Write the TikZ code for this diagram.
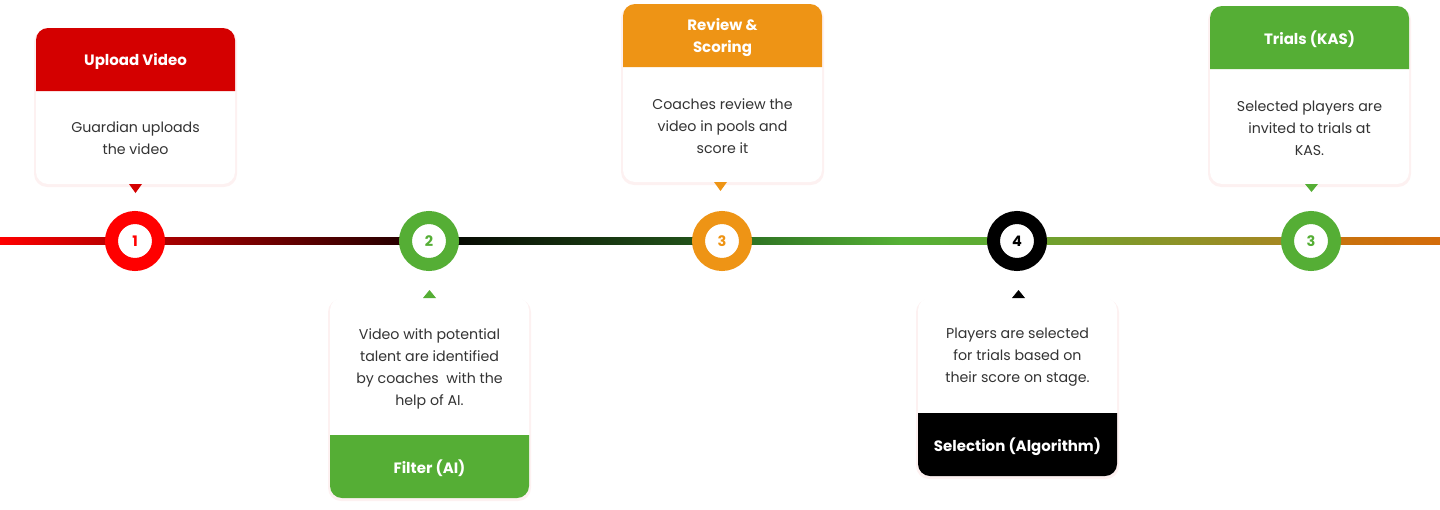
\documentclass[tikz,border=0pt]{standalone}
\usepackage{fontspec}
\setmainfont{Poppins}
\definecolor{cred}{HTML}{FF0000}
\definecolor{hred}{HTML}{D40000}
\definecolor{cgreen}{HTML}{55AE35}
\definecolor{corange}{HTML}{EE9415}
\definecolor{cblack}{HTML}{000000}
\definecolor{bodyc}{HTML}{333333}
\definecolor{shadowc}{HTML}{FDF1F1}
\tikzset{
  headtxt/.style={text=white, font=\fontsize{15}{22}\selectfont\bfseries, align=center, inner sep=0pt},
  bodytxt/.style={text=bodyc, font=\fontsize{14.2}{22}\selectfont, align=center, inner sep=0pt},
  ring/.style={circle, fill=white, draw=#1, line width=13pt, minimum size=47pt, inner sep=0pt, outer sep=0pt,
     text=#1, font=\fontsize{14.5}{14.5}\selectfont\bfseries},
  cardshadow/.style={fill=shadowc, rounded corners=13pt},
  cardbody/.style={fill=white, rounded corners=12pt},
}
\begin{document}
\begin{tikzpicture}[x=1pt,y=-1pt]
\useasboundingbox (0,0) rectangle (1440,509);
% ---- timeline bar ----
\shade[left color=cred, right color=hred!80!black] (0,237.5) rectangle (135,244.5);
\shade[left color={rgb,255:red,184;green,0;blue,0}, right color={rgb,255:red,24;green,0;blue,0}] (135,237.5) rectangle (429,244.5);
\shade[left color={rgb,255:red,4;green,2;blue,0}, right color={rgb,255:red,36;green,90;blue,28}] (429,237.5) rectangle (722,244.5);
\shade[left color={rgb,255:red,40;green,104;blue,32}, right color={rgb,255:red,85;green,176;blue,53}] (722,237.5) rectangle (900,244.5);
\shade[left color={rgb,255:red,85;green,176;blue,53}, right color={rgb,255:red,98;green,170;blue,50}] (899.5,237.5) rectangle (1017,244.5);
\shade[left color={rgb,255:red,104;green,164;blue,48}, right color={rgb,255:red,172;green,132;blue,32}] (1017,237.5) rectangle (1311,244.5);
\shade[left color={rgb,255:red,196;green,116;blue,15}, right color={rgb,255:red,212;green,108;blue,10}] (1311,237.5) rectangle (1440,244.5);

% ---- circles ----
\node[ring=cred] (c1) at (135,241) {1};
\node[ring=cgreen] (c2) at (429,241) {2};
\node[ring=corange] (c3) at (722,241) {3};
\node[ring=cblack] (c4) at (1017,241) {4};
\node[ring=cgreen] (c5) at (1311,241) {3};

% ---- card 1 (top) ----
\fill[cardshadow] (34,29) rectangle (237,187);
\fill[cardbody] (36,28) rectangle (235,184);
\fill[hred] (36,91) [rounded corners=12pt] -- (36,28) -- (235,28) [sharp corners] -- (235,91) -- cycle;
\node[headtxt] (h1) at (135.5,61.5) {Upload Video};
\node[bodytxt] (b1) at (135.5,138.5) {Guardian uploads\\the video};
\fill[hred] (129,184) -- (142,184) -- (135.5,193) -- cycle;

% ---- card 3 (top) ----
\fill[cardshadow] (621,5) rectangle (824,185);
\fill[cardbody] (623,4) rectangle (822,182);
\fill[corange] (623,67) [rounded corners=12pt] -- (623,4) -- (822,4) [sharp corners] -- (822,67) -- cycle;
\node[headtxt] (h3) at (722.5,38) {Review \&\\Scoring};
\node[bodytxt] (b3) at (722.5,126) {Coaches review the\\video in pools and\\score it};
\fill[corange] (714,182) -- (727,182) -- (720.5,191) -- cycle;

% ---- card 5 (top) ----
\fill[cardshadow] (1208,7) rectangle (1411,187);
\fill[cardbody] (1210,6) rectangle (1409,184);
\fill[cgreen] (1210,69) [rounded corners=12pt] -- (1210,6) -- (1409,6) [sharp corners] -- (1409,69) -- cycle;
\node[headtxt] (h5) at (1309.5,39.5) {Trials (KAS)};
\node[bodytxt] (b5) at (1309.5,128) {Selected players are\\invited to trials at\\KAS.};
\fill[cgreen] (1305,184) -- (1318,184) -- (1311.5,192) -- cycle;

% ---- card 2 (bottom) ----
\fill[cardshadow] (328,299) rectangle (531,501);
\fill[cardbody] (330,298) rectangle (529,498);
\fill[cgreen] (330,435) -- (529,435) [rounded corners=12pt] -- (529,498) -- (330,498) [sharp corners] -- cycle;
\node[headtxt] (h2) at (429.5,468.5) {Filter (AI)};
\node[bodytxt] (b2) at (429.5,368.5) {Video with potential\\talent are identified\\by coaches\ \ with the\\help of AI.};
\fill[cgreen] (423,298) -- (436,298) -- (429.5,290) -- cycle;

% ---- card 4 (bottom) ----
\fill[cardshadow] (916,299) rectangle (1119,479);
\fill[cardbody] (918,298) rectangle (1117,476);
\fill[cblack] (918,413) -- (1117,413) [rounded corners=12pt] -- (1117,476) -- (918,476) [sharp corners] -- cycle;
\node[headtxt] (h4) at (1017.5,446.5) {Selection (Algorithm)};
\node[bodytxt] (b4) at (1017.5,357.5) {Players are selected\\for trials based on\\their score on stage.};
\fill[cblack] (1012,298) -- (1025,298) -- (1018.5,290) -- cycle;
\end{tikzpicture}
\end{document}
